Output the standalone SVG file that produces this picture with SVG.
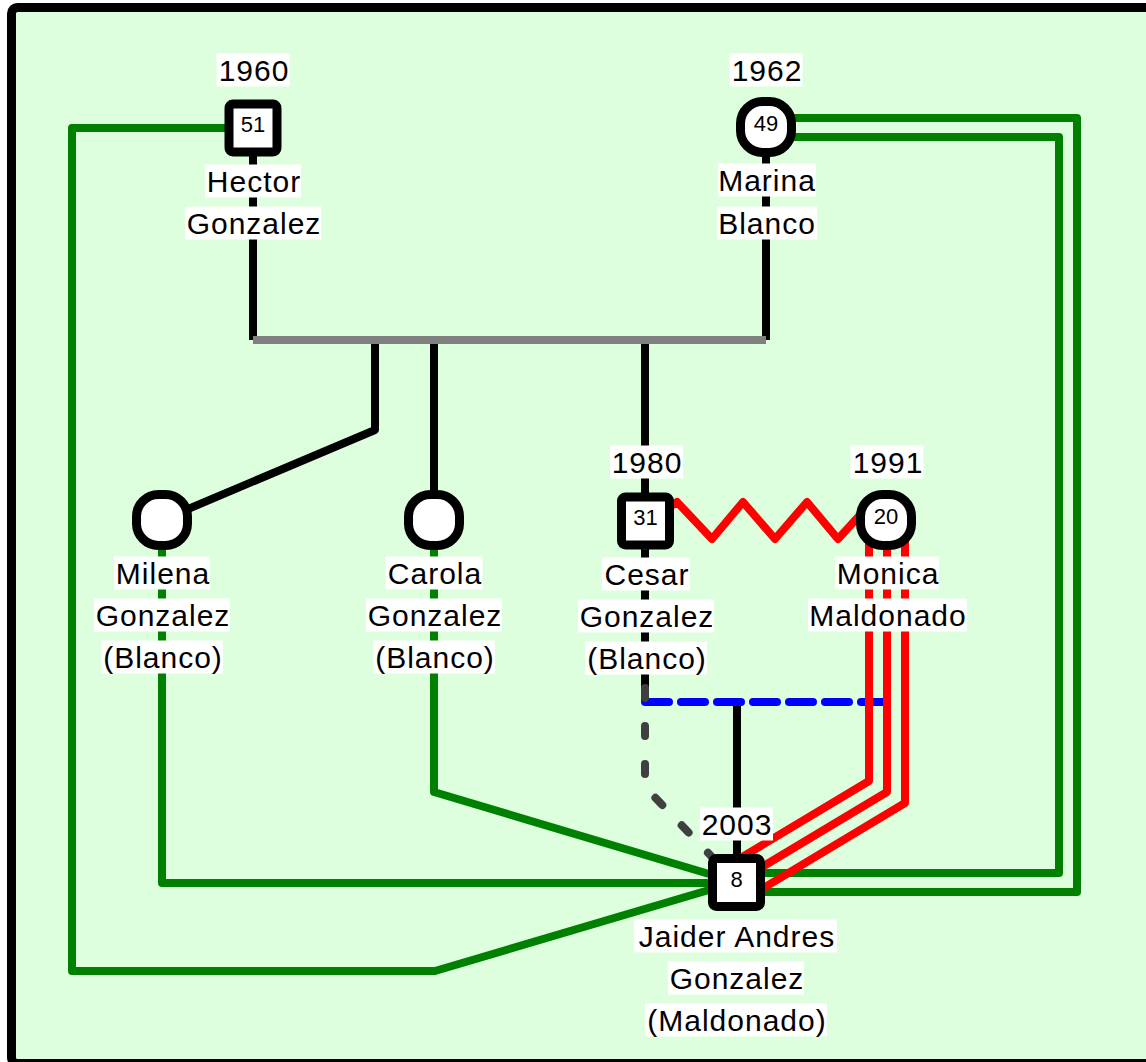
<svg xmlns="http://www.w3.org/2000/svg" width="1146" height="1062" viewBox="0 0 1146 1062">
<style>
.t{font-family:"Liberation Sans",Arial,sans-serif;font-size:30px;letter-spacing:1px;text-anchor:middle;fill:#000}
.n{font-family:"Liberation Sans",Arial,sans-serif;font-size:22px;text-anchor:middle;fill:#000}
.bg{fill:#fff}
.m{fill:#fff;stroke:#000;stroke-width:9}
.ln{fill:none;stroke-width:8;stroke-linejoin:round}
.k{stroke:#000}
.g{stroke:#008000}
.r{stroke:#ff0000}
.gy{stroke:#808080}
</style>
<rect x="0" y="0" width="1146" height="1062" fill="#fff"/>
<rect x="11.5" y="7.5" width="1145" height="1056" rx="6" fill="#ddffdd" stroke="#000" stroke-width="9"/>
<g id="connectors">
  <path class="ln g" d="M253,128 H72 V971 H435 L736,882"/>
  <path class="ln g" d="M766,118 H1077 V892 H736"/>
  <path class="ln g" d="M766,137 H1059 V873 H736"/>
  <path class="ln g" d="M162,520 V883 H736"/>
  <path class="ln g" d="M434,520 V792 L736,882"/>
  <path class="ln k" d="M253,128 V340"/>
  <path class="ln k" d="M766,127 V340"/>
  <path class="ln k" d="M375,340 V430 L162,520"/>
  <path class="ln k" d="M434,340 V520"/>
  <path class="ln k" d="M645,340 V521"/>
  <path class="ln gy" d="M253,340 H766"/>
  <path class="ln k" d="M645,521 V702"/>
  <path class="ln k" d="M737,702 V882"/>
  <path d="M645,702 H888" fill="none" stroke="#0000ff" stroke-width="8" stroke-linecap="round" stroke-dasharray="24 12"/>
  <path d="M645,521 V787 L736,882" fill="none" stroke="#404040" stroke-width="8" stroke-linecap="round" stroke-dasharray="10 28" stroke-dashoffset="23"/>
  <path class="ln r" d="M662,512 L677,502 L712,539 L743,502 L775,539 L807,502 L838,539 L870,504"/>
  <path class="ln r" d="M869,520 V781 L724,868"/>
  <path class="ln r" d="M887,520 V792 L737,882"/>
  <path class="ln r" d="M905,520 V803 L750,896"/>
</g>
<g id="hector">
  <rect class="m" x="229" y="104" width="48" height="48" rx="4"/>
  <text class="n" x="253" y="132">51</text>
  <rect class="bg" x="216.5" y="53.5" width="73" height="33"/>
  <text class="t" x="254" y="80.5">1960</text>
  <rect class="bg" x="205" y="164.5" width="96" height="33"/>
  <text class="t" x="254" y="191.5">Hector</text>
  <rect class="bg" x="185" y="206.5" width="136" height="33"/>
  <text class="t" x="254" y="233.5">Gonzalez</text>
</g>
<g id="marina">
  <rect class="m" x="740.5" y="101.5" width="51" height="51" rx="22"/>
  <text class="n" x="766" y="131">49</text>
  <rect class="bg" x="729.5" y="53.5" width="73" height="33"/>
  <text class="t" x="767" y="80.5">1962</text>
  <rect class="bg" x="718" y="163.5" width="98" height="33"/>
  <text class="t" x="767" y="190.5">Marina</text>
  <rect class="bg" x="717" y="206.5" width="100" height="33"/>
  <text class="t" x="767" y="233.5">Blanco</text>
</g>
<g id="milena">
  <rect class="m" x="136.5" y="494.5" width="51" height="51" rx="22"/>
  <rect class="bg" x="114" y="556.5" width="96" height="33"/>
  <text class="t" x="163" y="583.5">Milena</text>
  <rect class="bg" x="94" y="598.5" width="136" height="33"/>
  <text class="t" x="163" y="625.5">Gonzalez</text>
  <rect class="bg" x="101" y="640.5" width="122" height="33"/>
  <text class="t" x="163" y="667.5">(Blanco)</text>
</g>
<g id="carola">
  <rect class="m" x="408.5" y="494.5" width="51" height="51" rx="22"/>
  <rect class="bg" x="385.5" y="556.5" width="97" height="33"/>
  <text class="t" x="435" y="583.5">Carola</text>
  <rect class="bg" x="366" y="598.5" width="136" height="33"/>
  <text class="t" x="435" y="625.5">Gonzalez</text>
  <rect class="bg" x="373" y="640.5" width="122" height="33"/>
  <text class="t" x="435" y="667.5">(Blanco)</text>
</g>
<g id="cesar">
  <rect class="m" x="621.5" y="497" width="48" height="48" rx="4"/>
  <text class="n" x="645.5" y="525">31</text>
  <rect class="bg" x="610" y="445.5" width="73" height="33"/>
  <text class="t" x="647" y="472.5">1980</text>
  <rect class="bg" x="602" y="557.5" width="88" height="33"/>
  <text class="t" x="647" y="584.5">Cesar</text>
  <rect class="bg" x="578" y="599.5" width="136" height="33"/>
  <text class="t" x="647" y="626.5">Gonzalez</text>
  <rect class="bg" x="585" y="641.5" width="122" height="33"/>
  <text class="t" x="647" y="668.5">(Blanco)</text>
</g>
<g id="monica">
  <rect class="m" x="860.5" y="494.5" width="51" height="51" rx="22"/>
  <text class="n" x="886" y="524">20</text>
  <rect class="bg" x="850.5" y="445.5" width="73" height="33"/>
  <text class="t" x="888" y="472.5">1991</text>
  <rect class="bg" x="835" y="556.5" width="104" height="33"/>
  <text class="t" x="888" y="583.5">Monica</text>
  <rect class="bg" x="808" y="598.5" width="159" height="33"/>
  <text class="t" x="888" y="625.5">Maldonado</text>
</g>
<g id="jaider">
  <rect class="m" x="712.5" y="858.5" width="48" height="48" rx="4"/>
  <text class="n" x="736.5" y="886.5">8</text>
  <rect class="bg" x="700" y="807.5" width="73" height="33"/>
  <text class="t" x="737" y="834.5">2003</text>
  <rect class="bg" x="634" y="919.5" width="203" height="33"/>
  <text class="t" x="737" y="946.5">Jaider Andres</text>
  <rect class="bg" x="668" y="961.5" width="136" height="33"/>
  <text class="t" x="737" y="988.5">Gonzalez</text>
  <rect class="bg" x="645" y="1003.5" width="182" height="33"/>
  <text class="t" x="737" y="1030.5">(Maldonado)</text>
</g>
</svg>
